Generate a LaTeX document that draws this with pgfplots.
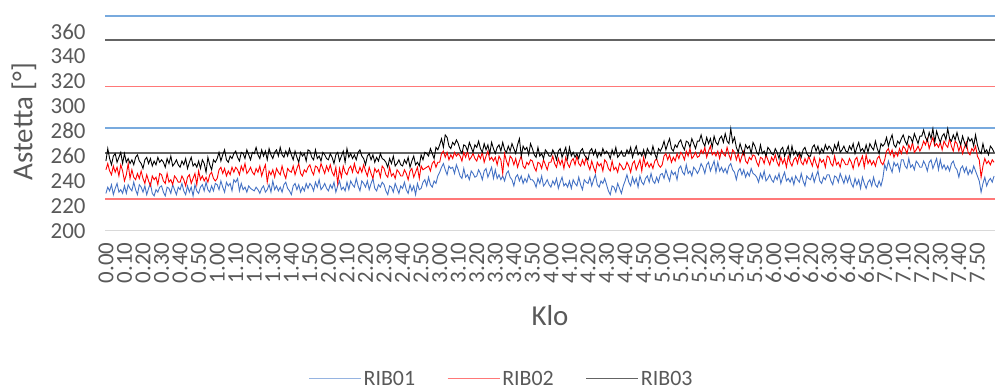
\documentclass[border=0pt]{standalone}
\usepackage{pgfplots}
\pgfplotsset{compat=1.18}
\usepackage{pgfplotstable}
\usepackage{fontspec}
\setmainfont{Carlito}
\definecolor{txt}{RGB}{89,89,89}
\definecolor{sB}{RGB}{68,114,196}
\definecolor{sR}{RGB}{255,0,0}
\definecolor{sK}{RGB}{0,0,0}
\definecolor{lB}{RGB}{120,170,222}
\definecolor{lR}{RGB}{255,120,120}
\definecolor{lK}{RGB}{100,100,100}
\definecolor{gB}{RGB}{150,180,225}
\definecolor{axc}{RGB}{217,217,217}
% RIB01
\pgfplotstableread[row sep=\\,header=false]{
230\\235\\232\\237\\229\\234\\238\\231\\233\\230\\
236\\230\\237\\234\\232\\239\\233\\229\\237\\235\\
231\\236\\229\\234\\238\\230\\228\\233\\231\\235\\
236\\231\\228\\235\\234\\230\\237\\233\\229\\235\\
233\\238\\232\\229\\236\\231\\235\\228\\237\\232\\
230\\235\\237\\232\\239\\233\\231\\236\\232\\238\\
237\\233\\240\\235\\231\\239\\236\\238\\232\\241\\
239\\242\\232\\238\\233\\235\\231\\236\\234\\233\\
232\\235\\233\\230\\234\\236\\231\\233\\237\\231\\
240\\233\\236\\232\\235\\231\\237\\239\\234\\232\\
229\\236\\238\\233\\237\\231\\235\\232\\238\\234\\
238\\236\\232\\239\\235\\241\\233\\235\\238\\234\\
232\\237\\234\\239\\231\\236\\240\\233\\235\\232\\
239\\233\\240\\237\\235\\242\\236\\232\\240\\238\\
235\\240\\233\\238\\242\\234\\232\\237\\235\\239\\
237\\232\\229\\236\\235\\231\\238\\234\\230\\236\\
234\\239\\233\\230\\237\\232\\236\\229\\238\\233\\
234\\239\\241\\236\\243\\237\\235\\240\\238\\244\\
247\\251\\254\\249\\245\\252\\250\\251\\246\\253\\
249\\244\\242\\250\\243\\245\\241\\248\\246\\243\\
244\\249\\246\\241\\248\\250\\243\\247\\251\\242\\
249\\242\\245\\241\\244\\240\\246\\248\\243\\241\\
236\\243\\245\\240\\244\\238\\242\\239\\245\\241\\
241\\239\\235\\242\\238\\244\\236\\238\\241\\237\\
235\\240\\237\\242\\234\\239\\243\\236\\238\\235\\
240\\234\\241\\238\\236\\243\\237\\233\\241\\239\\
238\\243\\236\\241\\245\\237\\235\\240\\238\\242\\
237\\232\\229\\236\\235\\231\\238\\234\\230\\236\\
240\\245\\239\\236\\243\\238\\242\\235\\244\\239\\
237\\242\\244\\239\\246\\240\\238\\243\\239\\245\\
246\\242\\249\\244\\240\\248\\245\\247\\241\\250\\
252\\247\\245\\253\\246\\248\\244\\251\\249\\246\\
249\\254\\251\\246\\253\\255\\248\\252\\256\\247\\
255\\248\\251\\247\\250\\246\\252\\254\\249\\247\\
241\\248\\250\\245\\249\\243\\247\\244\\250\\246\\
245\\243\\239\\246\\242\\248\\240\\242\\245\\241\\
239\\244\\241\\246\\238\\243\\247\\240\\242\\239\\
243\\237\\244\\241\\239\\246\\240\\236\\244\\242\\
241\\246\\239\\244\\248\\240\\238\\243\\241\\245\\
245\\240\\237\\244\\243\\239\\246\\242\\238\\244\\
239\\244\\238\\235\\242\\237\\241\\234\\243\\238\\
234\\239\\241\\236\\243\\237\\235\\240\\236\\242\\
253\\249\\256\\251\\247\\255\\252\\254\\248\\257\\
257\\252\\250\\258\\251\\253\\249\\256\\254\\251\\
251\\256\\253\\248\\255\\257\\250\\254\\258\\249\\
257\\250\\253\\249\\252\\248\\254\\256\\251\\249\\
243\\250\\252\\247\\251\\245\\249\\246\\252\\248\\
244\\240\\231\\238\\243\\236\\240\\242\\239\\244\\
}\tblB
% RIB02
\pgfplotstableread[row sep=\\,header=false]{
249\\254\\248\\245\\252\\247\\251\\244\\253\\248\\
240\\245\\254\\242\\249\\243\\241\\246\\242\\248\\
242\\238\\245\\240\\236\\244\\241\\243\\237\\246\\
245\\240\\238\\246\\239\\241\\237\\244\\242\\239\\
239\\244\\241\\236\\243\\245\\238\\242\\246\\237\\
248\\241\\244\\240\\243\\239\\245\\247\\242\\240\\
242\\249\\251\\246\\250\\244\\248\\245\\251\\247\\
251\\249\\245\\252\\248\\254\\246\\248\\251\\247\\
245\\250\\247\\252\\244\\249\\253\\239\\248\\245\\
249\\243\\250\\247\\245\\252\\246\\242\\250\\248\\
247\\252\\245\\250\\254\\246\\244\\249\\247\\251\\
253\\248\\245\\252\\251\\247\\254\\250\\246\\252\\
248\\253\\247\\244\\251\\238\\250\\243\\252\\247\\
245\\250\\252\\247\\254\\248\\246\\251\\247\\253\\
248\\244\\251\\246\\242\\250\\247\\249\\243\\252\\
250\\245\\243\\251\\244\\246\\242\\249\\247\\244\\
244\\249\\246\\241\\248\\250\\243\\247\\251\\242\\
252\\249\\250\\251\\252\\248\\254\\256\\251\\255\\
255\\262\\264\\259\\263\\257\\261\\258\\263\\260\\
262\\260\\256\\263\\259\\264\\257\\259\\262\\258\\
256\\261\\258\\263\\255\\260\\264\\257\\259\\256\\
259\\253\\260\\257\\246\\262\\256\\252\\260\\258\\
253\\258\\251\\256\\260\\252\\250\\255\\253\\257\\
256\\251\\248\\255\\254\\250\\257\\253\\249\\255\\
255\\260\\254\\251\\258\\253\\257\\250\\259\\254\\
251\\256\\258\\253\\260\\254\\252\\257\\253\\259\\
253\\249\\256\\251\\247\\255\\252\\254\\248\\257\\
255\\250\\248\\256\\249\\251\\247\\254\\252\\249\\
250\\255\\252\\247\\254\\256\\249\\253\\257\\248\\
259\\252\\255\\251\\254\\250\\256\\258\\253\\251\\
253\\260\\262\\257\\261\\255\\259\\256\\262\\258\\
263\\261\\257\\264\\260\\266\\258\\260\\263\\259\\
260\\265\\262\\267\\259\\264\\268\\261\\263\\260\\
264\\258\\265\\262\\260\\267\\261\\257\\265\\263\\
257\\262\\255\\260\\264\\256\\254\\259\\257\\261\\
260\\255\\252\\259\\258\\254\\261\\257\\253\\259\\
256\\261\\255\\252\\259\\254\\258\\251\\260\\255\\
252\\257\\259\\254\\261\\255\\253\\258\\254\\260\\
256\\252\\259\\254\\250\\258\\255\\257\\251\\260\\
259\\254\\252\\260\\253\\255\\251\\258\\256\\253\\
253\\258\\255\\250\\257\\259\\252\\256\\260\\251\\
261\\254\\257\\253\\256\\252\\258\\260\\255\\253\\
257\\264\\266\\261\\265\\259\\263\\260\\266\\262\\
268\\266\\262\\269\\265\\271\\263\\265\\268\\264\\
267\\272\\269\\274\\266\\271\\275\\268\\270\\267\\
271\\265\\272\\269\\267\\274\\268\\264\\272\\270\\
264\\269\\262\\267\\271\\263\\261\\266\\264\\268\\
260\\257\\243\\252\\258\\254\\256\\253\\257\\255\\
}\tblR
% RIB03
\pgfplotstableread[row sep=\\,header=false]{
256\\266\\258\\253\\260\\262\\255\\259\\263\\254\\
262\\255\\258\\254\\257\\253\\259\\261\\256\\254\\
250\\257\\259\\254\\258\\252\\256\\253\\259\\255\\
257\\255\\251\\258\\254\\260\\252\\254\\257\\253\\
251\\256\\253\\258\\250\\255\\259\\252\\254\\251\\
256\\250\\257\\254\\247\\259\\253\\249\\257\\255\\
258\\263\\256\\261\\265\\257\\255\\260\\258\\262\\
264\\259\\256\\263\\262\\258\\265\\261\\257\\263\\
262\\267\\261\\258\\265\\260\\264\\257\\266\\261\\
258\\263\\265\\260\\267\\261\\259\\264\\260\\266\\
261\\257\\264\\259\\255\\263\\260\\262\\256\\265\\
264\\259\\257\\265\\258\\260\\256\\263\\261\\258\\
257\\262\\259\\254\\261\\263\\256\\260\\264\\255\\
266\\259\\262\\258\\261\\257\\263\\265\\260\\258\\
253\\260\\262\\257\\261\\255\\259\\256\\262\\258\\
257\\255\\251\\258\\254\\260\\252\\254\\257\\253\\
252\\257\\254\\259\\251\\256\\260\\253\\255\\252\\
261\\257\\263\\262\\260\\266\\262\\258\\267\\265\\
269\\274\\267\\277\\275\\268\\266\\271\\269\\273\\
270\\265\\262\\269\\268\\264\\271\\267\\263\\269\\
267\\272\\266\\263\\270\\265\\269\\262\\271\\266\\
262\\267\\269\\264\\271\\265\\263\\268\\264\\270\\
266\\262\\269\\274\\260\\268\\265\\267\\261\\270\\
266\\261\\259\\267\\260\\262\\258\\265\\263\\260\\
260\\265\\262\\257\\264\\266\\259\\263\\267\\258\\
267\\260\\263\\259\\262\\258\\264\\266\\261\\259\\
257\\264\\266\\261\\265\\259\\263\\260\\266\\262\\
264\\262\\258\\265\\261\\267\\259\\261\\264\\260\\
260\\265\\262\\267\\259\\264\\268\\261\\263\\260\\
265\\259\\266\\263\\261\\268\\262\\258\\266\\264\\
267\\272\\265\\270\\274\\266\\264\\269\\267\\271\\
273\\268\\265\\272\\271\\267\\274\\270\\266\\272\\
272\\277\\271\\268\\275\\270\\274\\267\\276\\271\\
269\\274\\276\\271\\278\\272\\270\\282\\271\\275\\
267\\263\\270\\265\\261\\269\\266\\268\\262\\271\\
268\\263\\261\\269\\262\\264\\260\\267\\265\\262\\
261\\266\\263\\258\\265\\267\\260\\264\\268\\259\\
268\\261\\264\\260\\263\\259\\265\\267\\262\\260\\
260\\267\\269\\264\\268\\262\\266\\263\\269\\265\\
268\\266\\262\\269\\265\\271\\263\\265\\268\\264\\
263\\268\\265\\270\\262\\267\\271\\264\\266\\263\\
269\\263\\270\\267\\265\\272\\266\\262\\270\\268\\
270\\275\\268\\273\\277\\269\\267\\272\\270\\274\\
277\\272\\269\\276\\275\\271\\278\\274\\270\\276\\
276\\281\\275\\272\\279\\274\\282\\271\\280\\275\\
271\\276\\278\\273\\282\\274\\272\\277\\273\\279\\
273\\269\\276\\271\\267\\275\\272\\274\\268\\277\\
269\\264\\262\\270\\263\\265\\261\\268\\266\\263\\
}\tblK
\begin{document}
\begin{tikzpicture}[font=\fontsize{22}{26}\selectfont]
\useasboundingbox (0,0) rectangle (998bp,392bp);
\begin{axis}[
  at={(105bp,161.3bp)}, anchor=south west,
  scale only axis, width=890bp, height=223.9bp,
  xmin=-0.5, xmax=479.5, ymin=200, ymax=380,
  ytick={200,220,...,360},
  xtick={0,10,...,470},
  xticklabels={0.00,0.10,0.20,0.30,0.40,0.50,1.00,1.10,1.20,1.30,1.40,1.50,2.00,2.10,2.20,2.30,2.40,2.50,3.00,3.10,3.20,3.30,3.40,3.50,4.00,4.10,4.20,4.30,4.40,4.50,5.00,5.10,5.20,5.30,5.40,5.50,6.00,6.10,6.20,6.30,6.40,6.50,7.00,7.10,7.20,7.30,7.40,7.50},
  axis lines*=left,
  y axis line style={draw=none},
  x axis line style={draw=axc, line width=1.3bp},
  tick style={draw=none},
  /pgf/number format/assume math mode=true,
  tick label style={font=\fontsize{23}{27}\selectfont, text=txt},
  xticklabel style={yshift=-8.5bp, rotate=90, anchor=east},
  yticklabel style={xshift=-16bp},
  xlabel={Klo},
  xlabel style={at={(axis description cs:0.5,-0.378)}, anchor=center, text=txt, font=\fontsize{29}{34}\selectfont},
  ylabel={Astetta [°]},
  ylabel style={at={(axis description cs:-0.091,0.487)}, anchor=center, text=txt, font=\fontsize{29}{34}\selectfont},
  legend columns=3,
  legend style={at={(0.4455,-0.662)}, anchor=center, draw=none, fill=none,
    inner sep=0pt, outer sep=0pt,
    font=\fontsize{22}{26}\selectfont, text=txt,
    /tikz/every even column/.append style={column sep=30bp}},
  legend image code/.code={\draw[#1, line width=1.1bp] (0bp,0bp) -- (52bp,0bp);},
]
\addplot[lB, line width=1.6bp, forget plot] coordinates {(-0.5,372.5) (479.5,372.5)};
\addplot[lK, line width=1.6bp, forget plot] coordinates {(-0.5,353.5) (479.5,353.5)};
\addplot[lR, line width=1.6bp, forget plot] coordinates {(-0.5,316) (479.5,316)};
\addplot[lB, line width=1.6bp, forget plot] coordinates {(-0.5,282.5) (479.5,282.5)};
\addplot[lK, line width=1.6bp, forget plot] coordinates {(-0.5,262.6) (479.5,262.6)};
\addplot[lR, line width=1.6bp, forget plot] coordinates {(-0.5,225.6) (479.5,225.6)};
\addplot[sB, line width=0.9bp, forget plot] table[x expr=\coordindex, y index=0] {\tblB};
\addplot[sR, line width=0.9bp, forget plot] table[x expr=\coordindex, y index=0] {\tblR};
\addplot[sK, line width=0.9bp, forget plot] table[x expr=\coordindex, y index=0] {\tblK};
\addlegendimage{gB}\addlegendentry{RIB01}
\addlegendimage{lR}\addlegendentry{RIB02}
\addlegendimage{lK}\addlegendentry{RIB03}
\end{axis}
\end{tikzpicture}
\end{document}
